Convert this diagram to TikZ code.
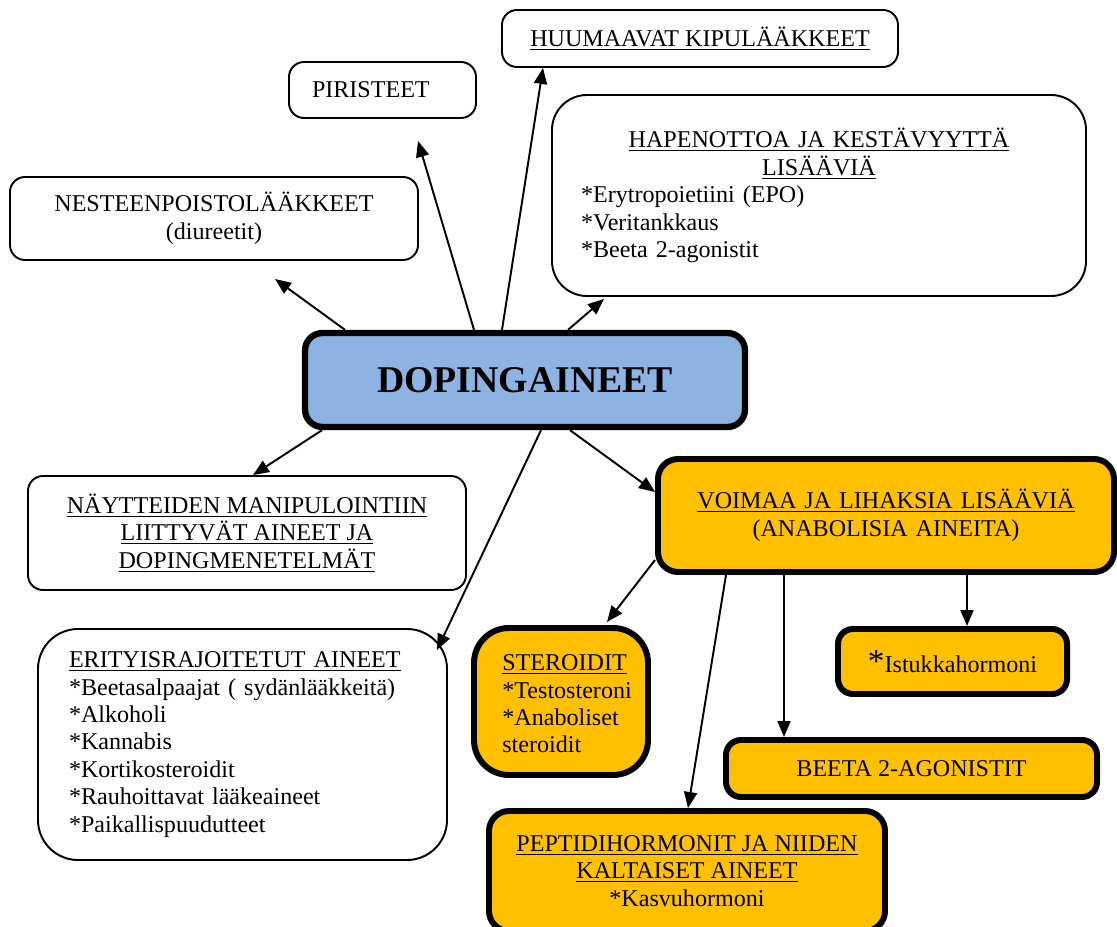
\documentclass[tikz,border=0pt]{standalone}
\usepackage{fontspec}
\setmainfont{Liberation Serif}
\usetikzlibrary{arrows.meta,positioning}
\definecolor{dopblue}{RGB}{141,179,226}
\definecolor{anaorange}{RGB}{255,192,0}
\setlength{\parindent}{0pt}

\begin{document}
\begin{tikzpicture}[every node/.style={font=\fontsize{13.7}{15.6}\selectfont},
    thinbox/.style={draw, rounded corners=0.3cm, line width=1.1pt, fill=white},
    thickbox/.style={draw, rounded corners=0.4cm, line width=3.4pt, fill=anaorange},
    >={Triangle[length=0.32cm,width=0.26cm]}]
  \useasboundingbox (0,0) rectangle (22.34,-18.54);

  \node[thinbox] (huum) at (14.0,-0.77) [minimum width=7.92cm, minimum height=1.14cm] {\underline{HUUMAAVAT KIPULÄÄKKEET}};
  \node[thinbox] (pir) at (7.65,-1.8) [minimum width=3.74cm, minimum height=1.12cm, text width=2.82cm, inner xsep=0.46cm, align=left] {PIRISTEET};
  \node[thinbox] (nest) at (4.28,-4.37) [minimum width=8.16cm, minimum height=1.66cm, align=center] {NESTEENPOISTOLÄÄKKEET\\(diureetit)};
  \node[thinbox] (hap) at (16.38,-3.91) [minimum width=10.68cm, minimum height=4.02cm, rounded corners=0.7cm, text width=9.52cm, inner xsep=0.58cm, align=left]
    {{\centering \underline{HAPENOTTOA JA KESTÄVYYTTÄ}\\ \underline{LISÄÄVIÄ}\par}*Erytropoietiini (EPO)\\{}*Veritankkaus\\{}*Beeta 2-agonistit\par\vspace*{0.44cm}};

  \node[draw, line width=3.6pt, rounded corners=0.35cm, fill=dopblue] (dop) at (10.5,-7.6) [minimum width=8.8cm, minimum height=1.88cm, font=\fontsize{21.5}{24}\selectfont\bfseries] {DOPINGAINEET};

  \node[thinbox] (nay) at (4.94,-10.66) [minimum width=8.76cm, minimum height=2.28cm, align=center]
    {\underline{NÄYTTEIDEN MANIPULOINTIIN}\\ \underline{LIITTYVÄT AINEET JA}\\ \underline{DOPINGMENETELMÄT}};
  \node[thickbox] (voi) at (17.72,-10.31) [minimum width=9.12cm, minimum height=2.26cm, text width=8.52cm, inner xsep=0.3cm, align=center]
    {\underline{VOIMAA JA LIHAKSIA LISÄÄVIÄ}\\(ANABOLISIA AINEITA)\par\vspace*{0.36cm}};
  \node[thinbox] (eri) at (4.85,-14.89) [minimum width=8.18cm, minimum height=4.62cm, rounded corners=0.8cm, text width=6.94cm, inner xsep=0.62cm, align=left]
    {\underline{ERITYISRAJOITETUT AINEET}\\{}*Beetasalpaajat ( sydänlääkkeitä)\\{}*Alkoholi\\{}*Kannabis\\{}*Kortikosteroidit\\{}*Rauhoittavat lääkeaineet\\{}*Paikallispuudutteet};

  % anabolic group
  \node[thickbox] (ster) at (11.22,-14.03) [minimum width=3.48cm, minimum height=2.94cm, rounded corners=0.7cm] {};
  \node[anchor=west, align=left, inner sep=0pt] (ster-t) at ([xshift=0.62cm, yshift=-0.05cm]ster.west) {\underline{STEROIDIT}\\{}*Testosteroni\\{}*Anaboliset\\ steroidit};
  \node[thickbox] (ist) at (19.05,-13.23) [minimum width=4.58cm, minimum height=1.3cm, rounded corners=0.3cm] {{\fontsize{19}{19}\selectfont *}Istukkahormoni};
  \node[thickbox] (bee) at (18.23,-15.37) [minimum width=7.42cm, minimum height=1.14cm, rounded corners=0.3cm] {BEETA 2-AGONISTIT};
  \node[thickbox] (pep) at (13.74,-17.42) [minimum width=7.92cm, minimum height=2.4cm, align=center] {\underline{PEPTIDIHORMONIT JA NIIDEN}\\ \underline{KALTAISET AINEET}\\{}*Kasvuhormoni};

  \draw[->, line width=1.1pt] ([xshift=-3.6cm]dop.north) -- ([xshift=1.22cm, yshift=-0.36cm]nest.south);
  \draw[->, line width=1.1pt] ([xshift=-1.02cm]dop.north) -- ([xshift=0.71cm, yshift=-0.44cm]pir.south);
  \draw[->, line width=1.1pt] ([xshift=-0.46cm]dop.north) -- ([xshift=-3.14cm]huum.south);
  \draw[->, line width=1.1pt] ([xshift=0.86cm]dop.north) -- ([xshift=-4.3cm, yshift=-0.04cm]hap.south);
  \draw[->, line width=1.1pt] ([xshift=-4.06cm]dop.south) -- ([xshift=0.12cm]nay.north);
  \draw[->, line width=1.1pt] ([xshift=0.32cm]dop.south) -- ([xshift=3.89cm, yshift=-0.44cm]eri.north);
  \draw[->, line width=1.1pt] ([xshift=0.9cm]dop.south) -- ([yshift=0.47cm]voi.west);

  \draw[->, line width=1.1pt] ([yshift=-0.89cm]voi.west) -- ([xshift=0.92cm, yshift=0.06cm]ster.north);
  \draw[->, line width=1.1pt] ([xshift=-3.2cm]voi.south) -- ([xshift=0.02cm]pep.north);
  \draw[->, line width=1.1pt] ([xshift=-2.04cm]voi.south) -- ([xshift=-2.55cm]bee.north);
  \draw[->, line width=1.1pt] ([xshift=1.62cm]voi.south) -- ([xshift=0.29cm]ist.north);
\end{tikzpicture}
\end{document}
